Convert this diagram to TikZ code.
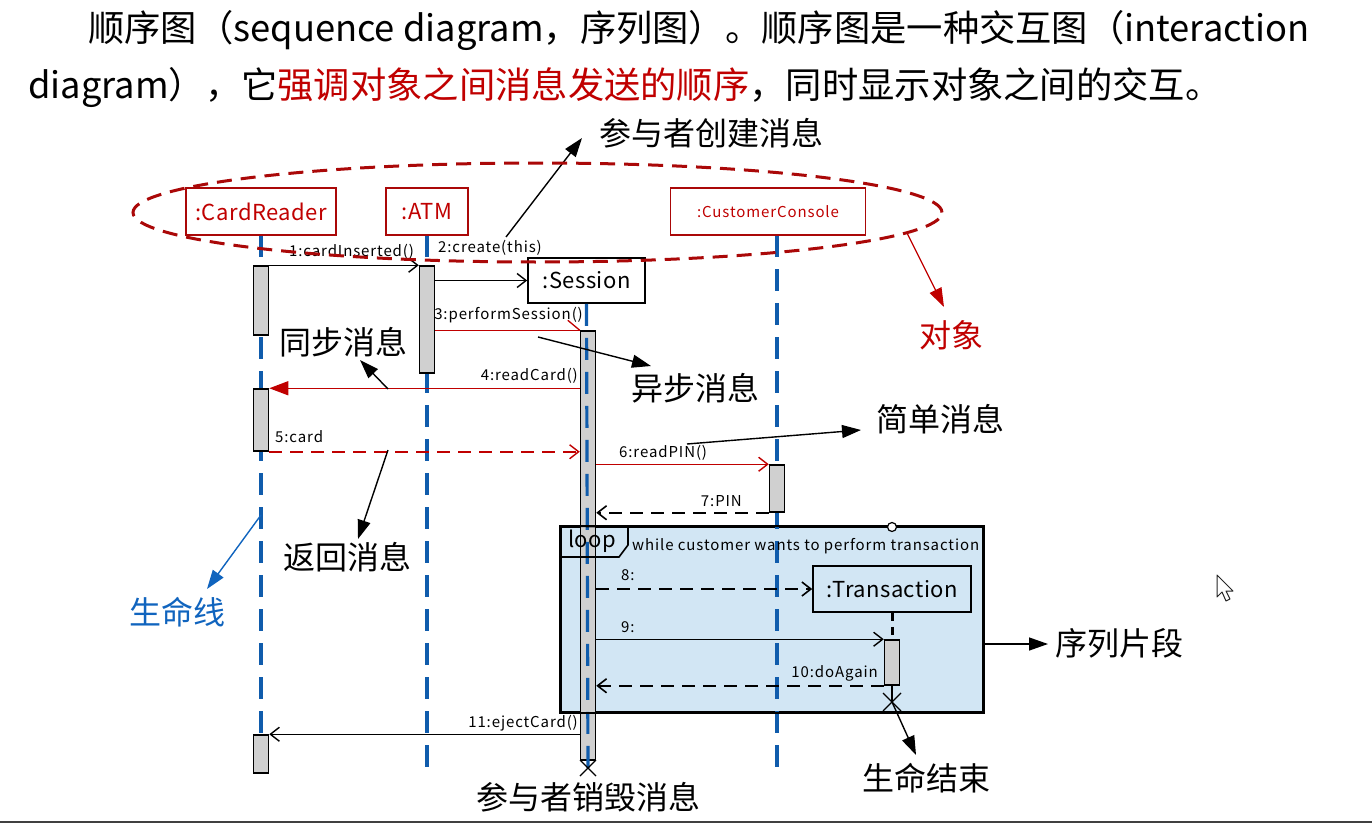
\documentclass[tikz,border=0pt]{standalone}
\usepackage{fontspec}
\setmainfont{Noto Sans CJK SC}
\newfontfamily\cjkf{Noto Sans CJK SC}
\newfontfamily\lblf[LetterSpace=6]{Noto Sans CJK SC}
\newfontfamily\boxf[LetterSpace=2]{Noto Sans CJK SC}
\usetikzlibrary{arrows.meta,shapes.geometric,calc}
\definecolor{dred}{RGB}{192,0,0}
\definecolor{ered}{RGB}{170,8,8}
\definecolor{lblue}{RGB}{16,92,172}
\definecolor{annblue}{RGB}{16,100,190}
\definecolor{framefill}{RGB}{210,230,244}
\definecolor{actgray}{RGB}{208,208,208}
\begin{document}
\begin{tikzpicture}[x=1pt,y=-1pt,
 objbox/.style={draw=ered, line width=1.4pt, fill=white, text=dred, inner sep=0pt, minimum height=47pt, font=\boxf\fontsize{22}{24}\selectfont},
 blkbox/.style={draw=black, line width=1.6pt, fill=white, inner sep=0pt, font=\boxf\fontsize{22}{24}\selectfont},
 actbar/.style={draw=black, line width=1.5pt, fill=actgray, inner sep=0pt, minimum width=15pt},
 lifeline/.style={draw=lblue, line width=3.2pt, dash pattern=on 22pt off 12pt},
 msgline/.style={line width=1.4pt, -{Straight Barb[length=9pt,width=14pt,line width=1.4pt]}},
 redmsg/.style={draw=dred, line width=1.3pt},
 dashmsg/.style={line width=2.4pt, dash pattern=on 13pt off 8pt, -{Straight Barb[length=9pt,width=14pt,line width=1.6pt]}},
 lbl/.style={inner sep=0pt, font=\lblf\fontsize{15}{17}\selectfont},
 ann/.style={inner sep=0pt, font=\cjkf\fontsize{32}{36}\selectfont},
 annarrow/.style={line width=1.4pt, -{Triangle[length=19pt,width=13pt]}},
 xmark/.style={line width=1.3pt}
]
\useasboundingbox (0,0) rectangle (1372,824);

% ---------- heading text ----------
\node[anchor=west, inner sep=0pt, font=\cjkf\fontsize{36.3}{40}\selectfont] (t1) at (88,31)
 {顺序图（sequence diagram，序列图）。顺序图是一种交互图（interaction};
\node[anchor=west, inner sep=0pt, font=\cjkf\fontsize{36.3}{40}\selectfont] (t2) at (28,88)
 {diagram），它\textcolor{dred}{强调对象之间消息发送的顺序}，同时显示对象之间的交互。};

% ---------- loop frame (fill) ----------
\node[draw=black, line width=1.8pt, fill=framefill, inner sep=0pt, minimum width=422pt, minimum height=185pt] (frame) at (772,619.5) {};

% ---------- lifeline coordinates ----------
\coordinate (crtop) at (261,235);  \coordinate (crbot) at (261,775);
\coordinate (atmtop) at (427,235); \coordinate (atmbot) at (427,775);
\coordinate (cctop) at (777,235);  \coordinate (ccbot) at (777,775);
\coordinate (sesbot) at (588,768);
\coordinate (trx) at (892,702);

\draw[lifeline] (crtop) -- (crbot);
\draw[lifeline] (atmtop) -- (atmbot);
\draw[lifeline] (cctop) -- (ccbot);

% ---------- objects ----------
\node[objbox, minimum width=150pt] (cr) at (261,211.5) {:CardReader};
\node[objbox, minimum width=82pt] (atm) at (427,211.5) {:ATM};
\node[objbox, minimum width=195pt, font=\lblf\fontsize{15}{17}\selectfont] (cc) at (768,211.5) {:CustomerConsole};
\node[blkbox, minimum width=117pt, minimum height=45pt] (ses) at (586.5,280.5) {:Session};
\node[blkbox, fill=framefill, minimum width=158pt, minimum height=46pt] (trans) at (892,589) {:Transaction};

% ---------- activations ----------
\node[actbar, minimum height=69pt] (cr1) at (261,300.5) {};
\node[actbar, minimum height=62pt] (cr2) at (261,420) {};
\node[actbar, minimum height=38pt] (cr3) at (261,754) {};
\node[actbar, minimum height=107pt] (atm1) at (427,319.5) {};
\node[actbar, minimum height=47pt] (cc1) at (777,488.5) {};
\node[actbar, minimum height=45pt] (tract) at (892,662.5) {};
\draw[line width=3pt, dash pattern=on 8pt off 6pt] (trans.south) -- (tract.north);
\draw[line width=2pt] (tract.south) -- (trx);

\node[actbar, minimum height=429pt] (sesact) at (588,545.5) {};
\draw[lifeline] (ses.south) -- (sesbot);

% ---------- frame border and label ----------
\draw[line width=1.8pt] (frame.north west) rectangle (frame.south east);
\coordinate (lp1) at (628,527);
\coordinate (lp2) at (628,545);
\coordinate (lp3) at (619,557);
\coordinate (lp4) at (561,557);
\draw[line width=1.6pt] (frame.north west) -- (lp1) -- (lp2) -- (lp3) -- (lp4);
\node[inner sep=0pt, font=\boxf\fontsize{22}{24}\selectfont] (looplbl) at (592,541) {loop};
\node[lbl, anchor=west] (guard) at (632,546) {while customer wants to perform transaction};
\node[circle, draw=black, fill=white, line width=1.2pt, inner sep=0pt, minimum size=9pt] (gate) at (892,527) {};

% ---------- messages ----------
\draw[msgline] (cr1.north east) -- (atm1.north west);
\node[lbl, anchor=west] (l1) at (289,252) {1:cardInserted()};

\draw[msgline] (atm1.east |- ses.west) -- (ses.west);
\node[lbl, anchor=west] (l2) at (438,248) {2:create(this)};

\draw[redmsg] (atm1.east |- sesact.north west) -- (sesact.north west);
\draw[redmsg] (sesact.north west) -- ++(-12,-10);
\node[lbl, anchor=east] (l3) at (583,315) {3:performSession()};

\draw[redmsg, -{Triangle[length=19pt,width=14pt]}] (sesact.west |- cr2.north) -- (cr2.north east);
\node[lbl, anchor=east] (l4) at (578,376) {4:readCard()};

\draw[draw=dred, line width=2.2pt, dash pattern=on 13pt off 8pt, -{Straight Barb[length=9pt,width=14pt,line width=1.4pt]}] (cr2.south east) -- (sesact.west |- cr2.south east);
\node[lbl, anchor=west] (l5) at (275,437) {5:card};

\draw[redmsg, -{Straight Barb[length=9pt,width=14pt,line width=1.4pt]}] (sesact.east |- cc1.north) -- (cc1.north west);
\node[lbl, anchor=west] (l6) at (619,453) {6:readPIN()};

\draw[dashmsg] (cc1.south west) -- (sesact.east |- cc1.south west);
\node[lbl, anchor=east] (l7) at (742,501) {7:PIN};

\draw[dashmsg] (sesact.east |- trans.west) -- (trans.west);
\node[lbl, anchor=west] (l8) at (621,575) {8:};

\draw[msgline] (sesact.east |- tract.north) -- (tract.north west);
\node[lbl, anchor=west] (l9) at (621,627) {9:};

\draw[dashmsg] (tract.south west) -- (sesact.east |- tract.south west);
\node[lbl, anchor=east] (l10) at (878,673) {10:doAgain};

\draw[msgline] (sesact.west |- cr3.north) -- (cr3.north east);
\node[lbl, anchor=east] (l11) at (578,723) {11:ejectCard()};

% ---------- destruction marks ----------
\draw[xmark] ($(sesbot)+(-8,-8)$) -- ($(sesbot)+(8,8)$);
\draw[xmark] ($(sesbot)+(-8,8)$) -- ($(sesbot)+(8,-8)$);
\draw[xmark] ($(trx)+(-9,-9)$) -- ($(trx)+(9,9)$);
\draw[xmark] ($(trx)+(-9,9)$) -- ($(trx)+(9,-9)$);

% ---------- annotations ----------
\node[ann, anchor=west] (acreate) at (599,133) {参与者创建消息};
\coordinate (ac0) at (506,237); \coordinate (ac1) at (582,138);
\draw[annarrow] (ac0) -- (ac1);

\node[ann, anchor=west] (async) at (279,342) {同步消息};
\coordinate (as0) at (388,389); \coordinate (as1) at (360,360);
\draw[annarrow] (as0) -- (as1);

\node[ann, anchor=west] (asyn) at (631,388) {异步消息};
\coordinate (ay0) at (538,337); \coordinate (ay1) at (651,366);
\draw[annarrow] (ay0) -- (ay1);

\node[ann, anchor=west] (simple) at (876,419) {简单消息};
\coordinate (sm0) at (687,444); \coordinate (sm1) at (861,430);
\draw[annarrow] (sm0) -- (sm1);

\node[ann, anchor=west] (ret) at (283,557) {返回消息};
\coordinate (rt0) at (388,450); \coordinate (rt1) at (358,539);
\draw[annarrow] (rt0) -- (rt1);

\node[ann, anchor=west, text=annblue] (life) at (129,612) {生命线};
\coordinate (lf0) at (261,515); \coordinate (lf1) at (207,589);
\draw[annarrow, draw=annblue, fill=annblue] (lf0) -- (lf1);

\node[ann, anchor=west, text=dred] (obj) at (919,335) {对象};
\coordinate (ob0) at (907,233); \coordinate (ob1) at (944,307);
\draw[annarrow, draw=dred, fill=dred, line width=1.2pt] (ob0) -- (ob1);

\node[ann, anchor=west] (frag) at (1055,643) {序列片段};
\coordinate (fr1) at (1048,644);
\draw[annarrow] (frame.east |- fr1) -- (fr1);

\node[ann, anchor=west] (dead) at (862,778) {生命结束};
\coordinate (dd1) at (916,755);
\draw[annarrow] (trx) -- (dd1);

\node[ann, anchor=west] (destroy) at (476,797) {参与者销毁消息};

% ---------- objects ellipse ----------
\node[ellipse, draw=ered, line width=3pt, dash pattern=on 15pt off 9pt, minimum width=809pt, minimum height=99pt, inner sep=0pt] (objs) at (537.5,212.5) {};

% ---------- cursor ----------
\coordinate (cur) at (1217,575);
\draw[fill=white, draw=black!85, line width=1pt, line join=round] (cur) -- ++(0,22) -- ++(5,-5) -- ++(4,9) -- ++(4,-2) -- ++(-4,-8) -- ++(7,0) -- cycle;

% ---------- bottom rule ----------
\coordinate (br0) at (0,822); \coordinate (br1) at (1372,822);
\draw[line width=2pt, draw=black!75] (br0) -- (br1);
\end{tikzpicture}
\end{document}
